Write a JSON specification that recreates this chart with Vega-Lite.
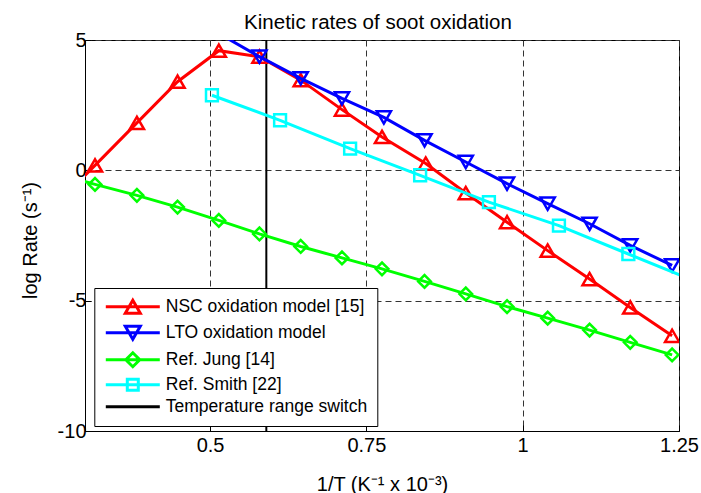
{
  "$schema": "https://vega.github.io/schema/vega-lite/v6.json",
  "width": 594,
  "height": 391,
  "autosize": {"type": "none"},
  "padding": {"left": 85, "top": 40, "right": 22, "bottom": 62},
  "background": "white",
  "title": {"text": "Kinetic rates of soot oxidation", "font": "Liberation Sans", "fontSize": 20.5, "fontWeight": "normal", "color": "black", "baseline": "alphabetic", "offset": 3, "anchor": "middle", "frame": "group", "dx": -4, "dy": 22},
  "datasets": {
    "d": [
      {"series": "Temperature range switch", "x": 0.59, "y": -10},
      {"series": "Temperature range switch", "x": 0.59, "y": 5},
      {"series": "NSC oxidation model [15]", "x": 0.25, "y": -1.4},
      {"series": "NSC oxidation model [15]", "x": 0.316, "y": 0.19},
      {"series": "NSC oxidation model [15]", "x": 0.383, "y": 1.82},
      {"series": "NSC oxidation model [15]", "x": 0.448, "y": 3.4},
      {"series": "NSC oxidation model [15]", "x": 0.514, "y": 4.59},
      {"series": "NSC oxidation model [15]", "x": 0.579, "y": 4.36},
      {"series": "NSC oxidation model [15]", "x": 0.645, "y": 3.46},
      {"series": "NSC oxidation model [15]", "x": 0.711, "y": 2.33},
      {"series": "NSC oxidation model [15]", "x": 0.775, "y": 1.28},
      {"series": "NSC oxidation model [15]", "x": 0.845, "y": 0.26},
      {"series": "NSC oxidation model [15]", "x": 0.909, "y": -0.87},
      {"series": "NSC oxidation model [15]", "x": 0.975, "y": -1.99},
      {"series": "NSC oxidation model [15]", "x": 1.04, "y": -3.08},
      {"series": "NSC oxidation model [15]", "x": 1.107, "y": -4.17},
      {"series": "NSC oxidation model [15]", "x": 1.172, "y": -5.26},
      {"series": "NSC oxidation model [15]", "x": 1.239, "y": -6.35},
      {"series": "LTO oxidation model", "x": 0.514, "y": 5.25},
      {"series": "LTO oxidation model", "x": 0.579, "y": 4.36},
      {"series": "LTO oxidation model", "x": 0.645, "y": 3.53},
      {"series": "LTO oxidation model", "x": 0.711, "y": 2.76},
      {"series": "LTO oxidation model", "x": 0.778, "y": 2.03},
      {"series": "LTO oxidation model", "x": 0.843, "y": 1.15},
      {"series": "LTO oxidation model", "x": 0.909, "y": 0.32},
      {"series": "LTO oxidation model", "x": 0.975, "y": -0.51},
      {"series": "LTO oxidation model", "x": 1.04, "y": -1.28},
      {"series": "LTO oxidation model", "x": 1.107, "y": -2.05},
      {"series": "LTO oxidation model", "x": 1.172, "y": -2.88},
      {"series": "LTO oxidation model", "x": 1.239, "y": -3.65},
      {"series": "Ref. Jung [14]", "x": 0.25, "y": -0.1},
      {"series": "Ref. Jung [14]", "x": 0.316, "y": -0.54},
      {"series": "Ref. Jung [14]", "x": 0.383, "y": -0.96},
      {"series": "Ref. Jung [14]", "x": 0.448, "y": -1.41},
      {"series": "Ref. Jung [14]", "x": 0.514, "y": -1.92},
      {"series": "Ref. Jung [14]", "x": 0.579, "y": -2.44},
      {"series": "Ref. Jung [14]", "x": 0.645, "y": -2.92},
      {"series": "Ref. Jung [14]", "x": 0.711, "y": -3.36},
      {"series": "Ref. Jung [14]", "x": 0.775, "y": -3.78},
      {"series": "Ref. Jung [14]", "x": 0.843, "y": -4.26},
      {"series": "Ref. Jung [14]", "x": 0.909, "y": -4.74},
      {"series": "Ref. Jung [14]", "x": 0.975, "y": -5.23},
      {"series": "Ref. Jung [14]", "x": 1.04, "y": -5.67},
      {"series": "Ref. Jung [14]", "x": 1.107, "y": -6.13},
      {"series": "Ref. Jung [14]", "x": 1.172, "y": -6.6},
      {"series": "Ref. Jung [14]", "x": 1.239, "y": -7.08},
      {"series": "Ref. Smith [22]", "x": 0.503, "y": 2.88},
      {"series": "Ref. Smith [22]", "x": 0.612, "y": 1.92},
      {"series": "Ref. Smith [22]", "x": 0.724, "y": 0.83},
      {"series": "Ref. Smith [22]", "x": 0.836, "y": -0.19},
      {"series": "Ref. Smith [22]", "x": 0.946, "y": -1.22},
      {"series": "Ref. Smith [22]", "x": 1.058, "y": -2.12},
      {"series": "Ref. Smith [22]", "x": 1.169, "y": -3.21},
      {"series": "Ref. Smith [22]", "x": 1.28, "y": -4.3}
    ]
  },
  "data": {"name": "d"},
  "encoding": {
    "x": {
      "field": "x", "type": "quantitative",
      "scale": {"domain": [0.3, 1.25], "nice": false, "zero": false},
      "axis": {
        "values": [0.5, 0.75, 1, 1.25],
        "labelExpr": "'' + datum.value",
        "title": "1/T (K⁻¹ x 10⁻³)",
        "titleY": 59,
        "titleBaseline": "alphabetic",
        "labelPadding": 10,
        "tickSize": -6
      }
    },
    "y": {
      "field": "y", "type": "quantitative",
      "scale": {"domain": [-10, 5], "nice": false, "zero": false},
      "axis": {
        "values": [-10, -5, 0, 5],
        "labelExpr": "'' + datum.value",
        "title": "log Rate (s⁻¹)",
        "titleX": -49,
        "titleY": 200,
        "titleAlign": "center",
        "titleBaseline": "alphabetic",
        "labelPadding": 5,
        "tickSize": -6
      }
    }
  },
  "layer": [
    {
      "transform": [{"filter": "datum.series == 'Temperature range switch'"}],
      "mark": {"type": "line", "color": "black", "strokeWidth": 2, "clip": true},
      "encoding": {}
    },
    {
      "transform": [{"filter": "datum.series == 'NSC oxidation model [15]'"}],
      "mark": {"type": "line", "color": "#ff0000", "strokeWidth": 3, "clip": true},
      "encoding": {}
    },
    {
      "transform": [{"filter": "datum.series == 'NSC oxidation model [15]' && datum.x >= 0.3 && datum.x <= 1.25 && datum.y <= 5"}],
      "mark": {"type": "point", "shape": "triangle-up", "filled": false, "size": 200, "strokeWidth": 2.5, "color": "#ff0000", "opacity": 1, "clip": true}
    },
    {
      "transform": [{"filter": "datum.series == 'LTO oxidation model'"}],
      "mark": {"type": "line", "color": "#0000ff", "strokeWidth": 3, "clip": true},
      "encoding": {}
    },
    {
      "transform": [{"filter": "datum.series == 'LTO oxidation model' && datum.x >= 0.3 && datum.x <= 1.25 && datum.y <= 5"}],
      "mark": {"type": "point", "shape": "triangle-down", "filled": false, "size": 200, "strokeWidth": 2.5, "color": "#0000ff", "opacity": 1, "clip": true}
    },
    {
      "transform": [{"filter": "datum.series == 'Ref. Jung [14]'"}],
      "mark": {"type": "line", "color": "#00ff00", "strokeWidth": 3, "clip": true},
      "encoding": {}
    },
    {
      "transform": [{"filter": "datum.series == 'Ref. Jung [14]' && datum.x >= 0.3 && datum.x <= 1.25 && datum.y <= 5"}],
      "mark": {"type": "point", "shape": "diamond", "filled": false, "size": 160, "strokeWidth": 2.5, "color": "#00ff00", "opacity": 1, "clip": true}
    },
    {
      "transform": [{"filter": "datum.series == 'Ref. Smith [22]'"}],
      "mark": {"type": "line", "color": "#00ffff", "strokeWidth": 3, "clip": true},
      "encoding": {}
    },
    {
      "transform": [{"filter": "datum.series == 'Ref. Smith [22]' && datum.x >= 0.3 && datum.x <= 1.25 && datum.y <= 5"}],
      "mark": {"type": "point", "shape": "square", "filled": false, "size": 140, "strokeWidth": 2.5, "color": "#00ffff", "opacity": 1, "clip": true}
    },
    {
      "transform": [{"filter": "false"}],
      "mark": {"type": "point", "filled": false, "strokeWidth": 3, "size": 100, "opacity": 1},
      "encoding": {
        "color": {
          "field": "series", "type": "nominal",
          "scale": {
            "domain": ["NSC oxidation model [15]", "LTO oxidation model", "Ref. Jung [14]", "Ref. Smith [22]", "Temperature range switch"],
            "range": ["#ff0000", "#0000ff", "#00ff00", "#00ffff", "#000000"]
          },
          "legend": {"title": null, "orient": "none", "legendX": 9.3, "legendY": 248, "symbolOpacity": 1}
        },
        "shape": {
          "field": "series", "type": "nominal",
          "scale": {
            "domain": ["NSC oxidation model [15]", "LTO oxidation model", "Ref. Jung [14]", "Ref. Smith [22]", "Temperature range switch"],
            "range": [
              "M-5.4,0L5.4,0M0,-1.3L1.5,1.3L-1.5,1.3Z",
              "M-5.4,0L5.4,0M0,1.3L1.5,-1.3L-1.5,-1.3Z",
              "M-5.4,0L5.4,0M0,-1.4L1.4,0L0,1.4L-1.4,0Z",
              "M-5.4,0L5.4,0M-1.1,-1.1L1.1,-1.1L1.1,1.1L-1.1,1.1Z",
              "M-5.4,0L5.4,0"
            ]
          },
          "legend": {"title": null, "orient": "none", "legendX": 9.3, "legendY": 248, "symbolOpacity": 1}
        }
      }
    }
  ],
  "config": {
    "view": {"stroke": "black", "strokeWidth": 1},
    "axis": {
      "labelFont": "Liberation Sans",
      "labelFontSize": 20,
      "labelColor": "black",
      "titleFont": "Liberation Sans",
      "titleFontSize": 20,
      "titleFontWeight": "normal",
      "titleColor": "black",
      "domainColor": "black",
      "domainWidth": 1,
      "tickColor": "black",
      "tickWidth": 1,
      "grid": true,
      "gridColor": "#333333",
      "gridDash": [6, 4],
      "gridWidth": 1,
      "gridOpacity": 1,
      "labelFlush": false,
      "labelOverlap": false
    },
    "legend": {
      "labelFont": "Liberation Sans",
      "labelFontSize": 17.5,
      "labelColor": "black",
      "labelLimit": 0,
      "fillColor": "white",
      "strokeColor": "black",
      "padding": 10,
      "rowPadding": 0,
      "symbolOffset": 19.75,
      "labelOffset": 24.25,
      "symbolStrokeWidth": 3,
      "symbolSize": 100,
      "symbolOpacity": 1
    }
  }
}
